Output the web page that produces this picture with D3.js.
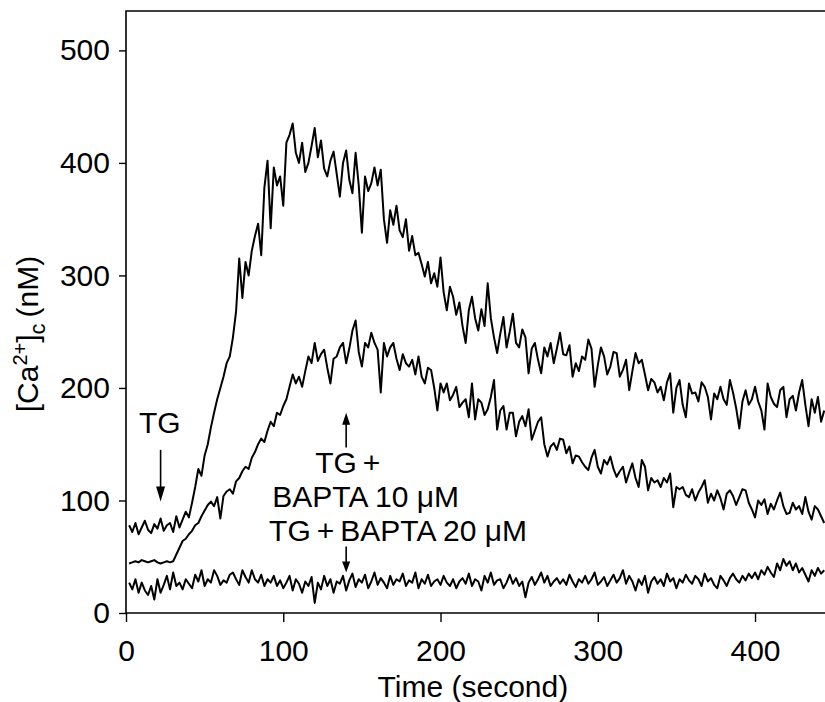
<!DOCTYPE html>
<html><head><meta charset="utf-8">
<script src="https://cdn.jsdelivr.net/npm/d3@7"></script>
<style>
body{margin:0;background:#fff}
svg{display:block}
text{font-family:"Liberation Sans",Arial,Helvetica,sans-serif;fill:#000}
</style>
</head><body>
<svg id="c" width="825" height="702"></svg>
<script>
// ---- data ----
const tStart = 2, tStep = 2, tEnd = 444;
const times = d3.range(tStart, tEnd + 1, tStep);   // seconds
const yTicks = [0, 100, 200, 300, 400, 500];
const xTicks = [0, 100, 200, 300, 400];

const tgOnly = [
 78,72,80,70,76,82,74,71,79,75,84,73,78,80,72,86,76,83,
 90,85,98,112,128,122,140,150,165,178,190,200,210,222,228,245,268,315,280,312,300,322,335,346,318,378,402,342,396,380,388,362,418,425,435,
 409,400,418,392,400,415,431,405,420,395,388,402,410,390,370,400,411,385,373,409,
 380,338,388,375,382,396,380,394,350,329,358,345,362,340,334,350,322,335,318,320,
 310,299,312,293,302,290,316,285,269,290,
 281,265,276,255,240,269,281,262,251,270,255,293,262,245,231,248,263,236,250,266,
 240,236,252,245,213,235,240,225,213,236,228,240,222,235,249,230,229,238,210,222,
 215,228,225,243,235,201,220,236,228,212,
 219,232,231,210,216,225,198,215,231,222,225,212,198,208,205,196,201,189,205,213,
 178,200,207,185,174,204,195,196,188,205,201,192,172,195,190,201,190,185,207,196,
 182,164,188,198,185,190,201,188,180,163,
 204,192,186,183,198,201,174,190,193,180,196,207,185,166,190,178,192,170,180
];

const bapta10 = [
 44,45,46,45,47,46,45,46,47,45,44,45,46,45,46,
 52,58,64,66,70,73,78,80,86,91,96,99,95,103,84,104,108,110,106,117,
 120,126,130,128,138,143,150,155,152,162,170,166,178,176,184,190,201,212,
 204,210,201,215,228,222,240,224,230,234,218,204,226,228,236,240,222,235,251,260,
 232,219,240,236,249,240,234,196,240,228,236,240,226,216,230,222,219,225,212,228,
 210,204,218,216,200,180,204,196,204,189,
 194,201,183,187,190,174,204,172,190,187,176,181,192,207,163,180,184,163,178,178,
 157,170,175,166,181,154,162,170,174,150,139,148,151,145,155,154,142,148,133,140,
 139,134,130,127,138,145,130,124,136,132,
 139,128,121,126,130,116,125,133,120,112,136,130,109,120,116,118,112,120,116,124,
 94,112,110,112,105,103,110,100,107,112,118,98,106,100,109,102,92,106,109,104,
 96,103,110,109,98,92,85,100,96,101,
 88,97,92,100,107,95,88,89,98,92,95,88,103,90,83,95,92,86,80
];

const bapta20 = [
 27,21,30,18,27,20,16,24,12,30,
 18,25,33,21,36,24,27,21,30,26,
 22,34,28,38,24,30,27,38,33,25,
 29,27,34,36,30,25,38,32,27,38,
 30,27,34,24,30,27,33,24,29,22,
 27,33,20,30,26,18,28,24,32,9,
 27,21,33,24,30,18,28,26,33,20,
 29,35,23,30,27,34,22,28,36,25,
 31,27,22,33,25,30,28,35,24,29,
 27,36,22,30,26,34,24,28,30,25,
 33,27,24,30,22,28,31,26,35,24,
 30,28,20,33,27,36,25,29,30,22,
 27,34,26,31,24,28,14,27,32,25,
 30,36,27,33,24,28,31,26,30,25,
 34,28,23,30,27,33,26,30,36,25,
 28,32,24,29,34,27,31,38,26,33,
 28,20,30,25,33,18,28,32,26,30,
 24,35,28,31,22,30,27,34,29,26,
 33,30,24,35,28,31,25,22,33,29,
 24,31,35,30,27,33,29,35,31,36,
 30,38,34,41,36,32,44,38,48,42,
 46,38,44,36,40,34,28,38,33,40,
 35,38
];

const seriesList = [tgOnly, bapta10, bapta20];

// ---- chart ----
const svg = d3.select("#c");
const x = d3.scaleLinear().domain([0, 445]).range([126, 825.8]);
const y = d3.scaleLinear().domain([0, 535]).range([613, 11]);
const FS = 30;

// axes
const yAxis = d3.axisLeft(y).tickValues(yTicks).tickSize(7).tickPadding(9);
const gy = svg.append("g").attr("transform", `translate(${x(0)},0)`).call(yAxis);
const xAxis = d3.axisBottom(x).tickValues(xTicks).tickSize(9).tickPadding(18);
const gx = svg.append("g").attr("transform", `translate(0,${y(0)})`).call(xAxis);
[gx, gy].forEach(g => {
  g.select(".domain").remove();
  g.selectAll(".tick line").attr("stroke", "#000").attr("stroke-width", 1.4);
  g.selectAll(".tick text").style("font-size", FS + "px").attr("fill", "#000")
    .style("font-family", '"Liberation Sans",Arial,sans-serif');
});

// frame
const [x0, x1] = x.range();
const [yb, yt] = y.range();
svg.append("path")
  .attr("d", `M${x1},${yt}H${x0}V${yb}H${x1}`)
  .attr("fill", "none").attr("stroke", "#000").attr("stroke-width", 1.6);

// traces
const line = d3.line().x((d, i) => x(times[i])).y(d => y(d));
svg.append("g").selectAll("path").data(seriesList).join("path")
  .attr("d", d => line(d))
  .attr("fill", "none").attr("stroke", "#000")
  .attr("stroke-width", 2).attr("stroke-linejoin", "round");

// axis titles
svg.append("text").attr("x", (x0 + x1) / 2 - 3).attr("y", 697)
  .attr("text-anchor", "middle").style("font-size", FS + "px").text("Time (second)");

const yt1 = svg.append("text").attr("transform", "translate(38,334) rotate(-90)")
  .attr("text-anchor", "middle").style("font-size", FS + "px");
yt1.append("tspan").text("[Ca");
yt1.append("tspan").attr("dy", -11).style("font-size", "20px").text("2+");
yt1.append("tspan").attr("dy", 11).text("]");
yt1.append("tspan").attr("dy", 7).style("font-size", "22px").text("c");
yt1.append("tspan").attr("dy", -7).text("\u2009(nM)");

// annotations (positions in data space)
function arrow(t, vFrom, vTo, head, halfW) {
  const xa = x(t), ya = y(vFrom), yb2 = y(vTo);
  const dir = Math.sign(yb2 - ya);
  svg.append("line").attr("x1", xa).attr("x2", xa).attr("y1", ya).attr("y2", yb2 - dir * head * 0.8)
    .attr("stroke", "#000").attr("stroke-width", 1.6);
  svg.append("path")
    .attr("d", `M${xa},${yb2}L${xa - halfW},${yb2 - dir * head}L${xa + halfW},${yb2 - dir * head}Z`)
    .attr("fill", "#000");
}
svg.append("text").attr("x", x(21.5)).attr("y", y(160)).attr("text-anchor", "middle")
  .style("font-size", FS + "px").text("TG");
arrow(22, 145, 99, 15, 4.5);

arrow(140, 147, 178, 12, 4);
svg.append("text").attr("x", x(141)).attr("y", y(124)).attr("text-anchor", "middle")
  .style("font-size", FS + "px").text("TG\u2009+");
svg.append("text").attr("x", x(93)).attr("y", y(94)).attr("text-anchor", "start")
  .style("font-size", FS + "px").text("BAPTA 10 \u03bcM");
svg.append("text").attr("x", x(91)).attr("y", y(64)).attr("text-anchor", "start")
  .style("font-size", FS + "px").text("TG\u2009+\u2009BAPTA 20 \u03bcM");
arrow(140, 59, 36, 11, 4);
</script>
</body></html>
